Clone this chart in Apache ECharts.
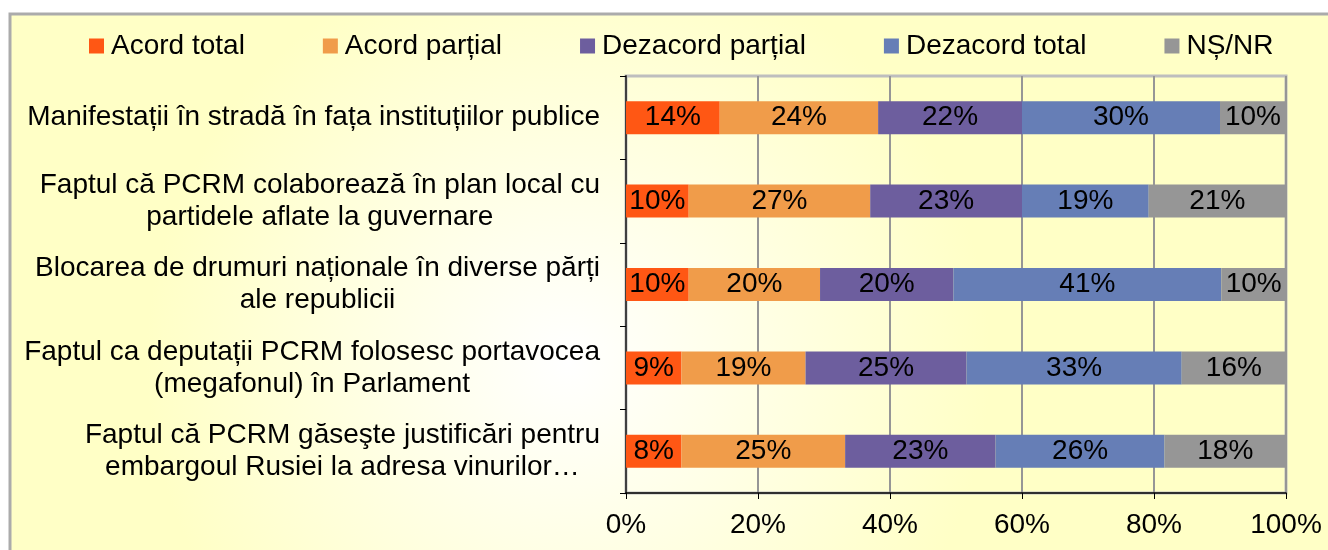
<!DOCTYPE html>
<html>
<head>
<meta charset="utf-8">
<script src="https://cdn.jsdelivr.net/npm/echarts@6/dist/echarts.min.js"></script>
<style>
  html, body { margin: 0; padding: 0; background: #fff; }
  #chart { width: 1328px; height: 550px; }
</style>
</head>
<body>
<div id="chart"></div>
<script>
// categories, top to bottom
var categories = [
	'Manifestații în stradă în fața instituțiilor publice',
	'Faptul că PCRM colaborează în plan local cu\npartidele aflate la guvernare',
	'Blocarea de drumuri naționale în diverse părți\nale republicii',
	'Faptul ca deputații PCRM folosesc portavocea\n(megafonul) în Parlament',
	'Faptul că PCRM găseşte justificări pentru\nembargoul Rusiei la adresa vinurilor…'
];
var seriesNames = ['Acord total', 'Acord parțial', 'Dezacord parțial', 'Dezacord total', 'NȘ/NR'];

// share of each row (%)
var acordTotal      = [14.2, 9.5, 9.5, 8.4, 8.4];
var acordPartial    = [24.0, 27.5, 19.9, 18.8, 24.8];
var dezacordPartial = [21.8, 23.0, 20.2, 24.4, 22.8];
var dezacordTotal   = [30.0, 19.2, 40.6, 32.6, 25.6];
var nsnr            = [10.0, 20.8, 9.8, 15.8, 18.4];

// printed labels (%)
var acordTotalLbl      = [14, 10, 10, 9, 8];
var acordPartialLbl    = [24, 27, 20, 19, 25];
var dezacordPartialLbl = [22, 23, 20, 25, 23];
var dezacordTotalLbl   = [30, 19, 41, 33, 26];
var nsnrLbl            = [10, 21, 10, 16, 18];

var xTicks = [0, 20, 40, 60, 80, 100];

var colors = ['#FF5714', '#F09C4A', '#6D5E9E', '#667EB6', '#969696'];
var FONT = '"Liberation Sans", Arial, sans-serif';
var FS = 28;

var myChart = echarts.init(document.getElementById('chart'));

var values = [acordTotal, acordPartial, dezacordPartial, dezacordTotal, nsnr];
var labels = [acordTotalLbl, acordPartialLbl, dezacordPartialLbl, dezacordTotalLbl, nsnrLbl];

var series = [];
for (var i = 0; i < values.length; i++) {
	(function(idx) {
		series.push({
			name: seriesNames[idx],
			type: 'bar',
			stack: 'all',
			barWidth: 33,
			data: values[idx],
			itemStyle: { color: colors[idx] },
			label: {
				show: true,
				position: 'inside',
				color: '#000',
				fontFamily: FONT,
				fontSize: FS,
				formatter: function(p) { return labels[idx][p.dataIndex] + '%'; }
			}
		});
	})(i);
}

var options = {
	backgroundColor: '#ffffff',
	animation: false,
	color: colors,
	graphic: [{
		type: 'rect',
		z: -10,
		silent: true,
		shape: { x: 10, y: 14, width: 1330, height: 560 },
		style: {
			fill: new echarts.graphic.RadialGradient(0.42, 0.62, 0.75, [
				{ offset: 0, color: '#FFFFFF' },
				{ offset: 1, color: '#FFFFC6' }
			]),
			stroke: '#ABABAB',
			lineWidth: 3
		}
	}],
	legend: {
		data: seriesNames,
		left: 84,
		top: 27,
		icon: 'rect',
		itemWidth: 15,
		itemHeight: 15,
		itemGap: 78,
		textStyle: { fontFamily: FONT, fontSize: FS, color: '#000', padding: [0, 0, 0, 2] }
	},
	grid: {
		left: 626,
		right: 42,
		top: 76,
		bottom: 57,
		show: true,
		borderColor: '#BEBEBE',
		borderWidth: 3,
		backgroundColor: 'transparent'
	},
	xAxis: {
		type: 'value',
		min: 0,
		max: 100,
		interval: 20,
		axisLine: { show: true, lineStyle: { color: '#000', width: 1.5 } },
		axisTick: { show: true, length: 6, lineStyle: { color: '#000' } },
		splitLine: { show: true, lineStyle: { color: '#969696', width: 2 } },
		axisLabel: {
			margin: 18,
			color: '#000',
			fontFamily: FONT,
			fontSize: FS,
			formatter: function(v) { return xTicks.indexOf(v) >= 0 ? v + '%' : ''; }
		}
	},
	yAxis: {
		type: 'category',
		inverse: true,
		data: categories,
		axisLine: { show: true, lineStyle: { color: '#404040', width: 2 } },
		axisTick: { show: true, length: 6, lineStyle: { color: '#000' } },
		axisLabel: {
			margin: 26,
			color: '#000',
			align: 'right',
			lineHeight: 32,
			formatter: function(v) {
				return v.split('\n').map(function(s) { return '{c|' + s + '}'; }).join('\n');
			},
			rich: {
				c: { align: 'center', fontFamily: FONT, fontSize: FS, color: '#000', lineHeight: 32 }
			}
		}
	},
	series: series
};

myChart.setOption(options, true);
</script>
</body>
</html>
